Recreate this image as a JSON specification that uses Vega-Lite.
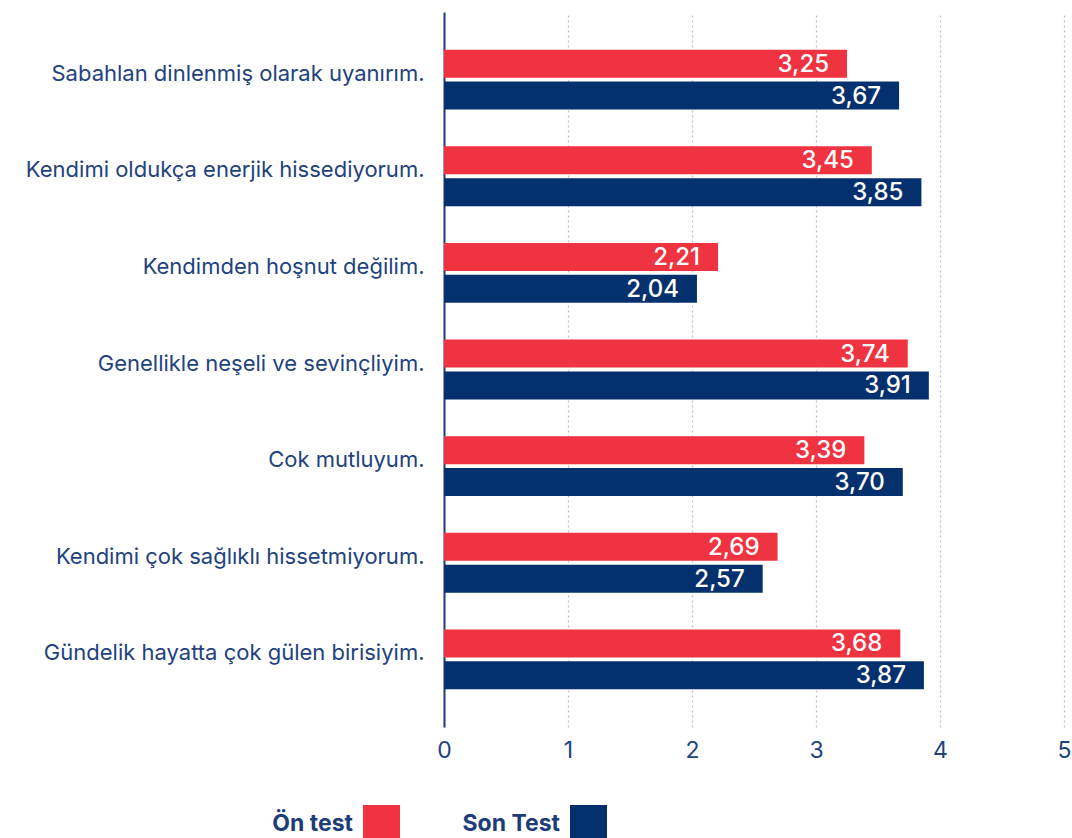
{
  "$schema": "https://vega.github.io/schema/vega-lite/v6.json",
  "width": 620,
  "height": 715,
  "autosize": {"type": "none"},
  "padding": {"left": 444, "top": 12, "right": 8, "bottom": 111},
  "background": "white",
  "config": {
    "view": {"stroke": null},
    "font": "Inter",
    "locale": {"number": {"decimal": ",", "thousands": ".", "grouping": [3], "currency": ["", " TL"]}}
  },
  "data": {
    "values": [
      {"item": "Sabahlan dinlenmiş olarak uyanırım.", "test": "Ön test", "value": 3.25},
      {"item": "Sabahlan dinlenmiş olarak uyanırım.", "test": "Son Test", "value": 3.67},
      {"item": "Kendimi oldukça enerjik hissediyorum.", "test": "Ön test", "value": 3.45},
      {"item": "Kendimi oldukça enerjik hissediyorum.", "test": "Son Test", "value": 3.85},
      {"item": "Kendimden hoşnut değilim.", "test": "Ön test", "value": 2.21},
      {"item": "Kendimden hoşnut değilim.", "test": "Son Test", "value": 2.04},
      {"item": "Genellikle neşeli ve sevinçliyim.", "test": "Ön test", "value": 3.74},
      {"item": "Genellikle neşeli ve sevinçliyim.", "test": "Son Test", "value": 3.91},
      {"item": "Cok mutluyum.", "test": "Ön test", "value": 3.39},
      {"item": "Cok mutluyum.", "test": "Son Test", "value": 3.70},
      {"item": "Kendimi çok sağlıklı hissetmiyorum.", "test": "Ön test", "value": 2.69},
      {"item": "Kendimi çok sağlıklı hissetmiyorum.", "test": "Son Test", "value": 2.57},
      {"item": "Gündelik hayatta çok gülen birisiyim.", "test": "Ön test", "value": 3.68},
      {"item": "Gündelik hayatta çok gülen birisiyim.", "test": "Son Test", "value": 3.87}
    ]
  },
  "encoding": {
    "y": {
      "field": "item", "type": "nominal", "sort": null, "title": null,
      "scale": {"paddingInner": 0.38, "paddingOuter": 0.39},
      "axis": {
        "domainColor": "#1D3C78", "domainWidth": 2, "ticks": false,
        "labelPadding": 20, "labelFontSize": 22, "labelColor": "#22427E",
        "labelLimit": 0, "labelFont": "Inter", "labelOffset": -6
      }
    },
    "yOffset": {"field": "test", "type": "nominal", "sort": ["Ön test", "Son Test"], "scale": {"paddingInner": 0.12}},
    "x": {
      "field": "value", "type": "quantitative", "title": null,
      "scale": {"domain": [0, 5], "nice": false},
      "axis": {
        "values": [0, 1, 2, 3, 4, 5], "domain": false, "ticks": false,
        "grid": true, "gridColor": "#B4C0D8", "gridDash": [2, 3], "gridWidth": 1.3,
        "labelFontSize": 23, "labelColor": "#22427E", "labelPadding": 12, "labelFlush": false,
        "labelFont": "Inter"
      }
    }
  },
  "layer": [
    {
      "mark": {"type": "bar"},
      "encoding": {
        "color": {
          "field": "test", "type": "nominal", "sort": ["Ön test", "Son Test"],
          "scale": {"domain": ["Ön test", "Son Test"], "range": ["#EF3340", "#05306E"]},
          "legend": {
            "title": null, "orient": "none", "legendX": -81, "legendY": 793,
            "direction": "horizontal", "symbolType": "square", "symbolSize": 1369,
            "symbolStrokeWidth": 0, "symbolOpacity": 1,
            "labelFontSize": 23, "labelFontWeight": "bold", "labelColor": "#1D3C78",
            "labelAlign": "right", "labelOffset": -47, "columnPadding": 62,
            "labelFont": "Inter"
          }
        }
      }
    },
    {
      "mark": {"type": "text", "align": "right", "baseline": "middle", "dx": -18, "dy": 1, "color": "white", "fontSize": 24, "fontWeight": 500, "font": "Inter"},
      "encoding": {
        "text": {"field": "value", "type": "quantitative", "format": ".2f"}
      }
    }
  ]
}
